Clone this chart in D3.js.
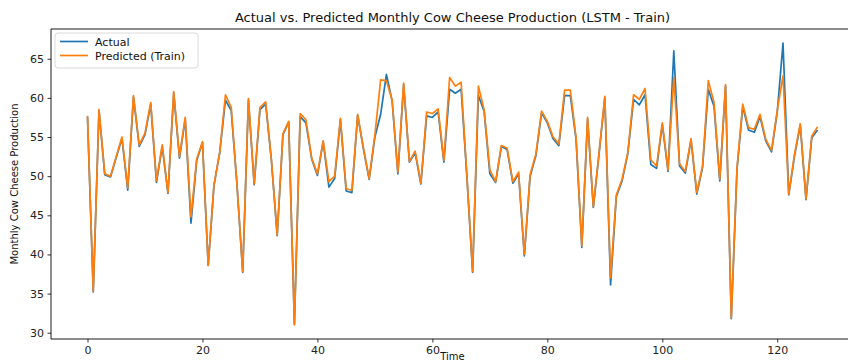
<!DOCTYPE html>
<html>
<head>
<meta charset="utf-8">
<script src="https://cdn.jsdelivr.net/npm/d3@7"></script>
<style>
  html, body { margin: 0; padding: 0; background: #fff; overflow: hidden; }
  svg { display: block; font-family: "DejaVu Sans", sans-serif; }
</style>
</head>
<body>
<svg id="chart" width="848" height="362"></svg>
<script>
// Monthly cow cheese production: actual values and LSTM predictions on the training set
const actual = [
  57.6, 35.2, 58.4, 50.2, 49.9, 52.4, 54.8, 48.2, 60.1, 53.8,
  55.3, 59.2, 49.2, 53.8, 47.8, 60.6, 52.3, 57.3, 44.0, 52.0,
  54.3, 38.6, 48.8, 53.0, 59.7, 58.4, 49.0, 37.7, 59.7, 48.9,
  58.5, 59.2, 52.0, 42.4, 55.3, 56.9, 31.1, 57.6, 56.8, 52.2,
  50.1, 54.4, 48.6, 49.7, 57.2, 48.1, 47.9, 57.8, 53.5, 49.6,
  55.0, 57.9, 63.0, 59.6, 50.3, 61.7, 51.8, 53.0, 49.0, 57.7,
  57.5, 58.2, 51.8, 61.1, 60.6, 61.1, 50.0, 37.7, 60.3, 58.3,
  50.3, 49.2, 53.8, 53.4, 49.1, 50.3, 39.8, 50.0, 52.6, 58.1,
  56.8, 54.8, 53.9, 60.3, 60.3, 54.7, 40.9, 57.3, 46.0, 52.9,
  60.0, 36.1, 47.4, 49.4, 52.9, 59.8, 59.1, 60.4, 51.5, 51.0,
  56.6, 50.6, 66.0, 51.3, 50.4, 54.6, 47.7, 51.1, 61.1, 58.9,
  49.4, 61.5, 31.8, 50.9, 58.9, 55.9, 55.6, 57.6, 54.5, 53.1,
  58.2, 67.0, 47.6, 52.6, 56.5, 47.0, 54.9, 55.9
];
const predicted = [
  57.7, 35.3, 58.5, 50.3, 50.0, 52.5, 55.0, 48.5, 60.3, 54.0,
  55.5, 59.4, 49.4, 54.0, 47.9, 60.8, 52.5, 57.5, 44.8, 52.2,
  54.4, 38.6, 48.9, 53.0, 60.4, 58.8, 49.0, 37.8, 59.9, 49.0,
  58.8, 59.5, 52.0, 42.5, 55.4, 57.0, 31.0, 58.0, 57.2, 52.3,
  50.3, 54.5, 49.3, 50.0, 57.4, 48.4, 48.2, 57.9, 53.6, 49.7,
  55.3, 62.3, 62.2, 59.7, 50.5, 61.9, 51.9, 53.2, 49.1, 58.2,
  58.0, 58.6, 52.0, 62.6, 61.5, 62.0, 50.1, 37.8, 61.5, 58.5,
  50.8, 49.3, 53.9, 53.6, 49.3, 50.5, 40.0, 50.2, 52.8, 58.3,
  57.0, 55.0, 54.1, 61.0, 61.0, 54.9, 41.1, 57.5, 46.1, 53.0,
  60.2, 37.0, 47.6, 49.6, 53.0, 60.4, 59.8, 61.2, 52.1, 51.3,
  56.8, 50.8, 62.6, 51.6, 50.6, 54.8, 47.9, 51.3, 62.2, 59.4,
  49.6, 61.7, 31.9, 51.1, 59.2, 56.2, 56.0, 57.9, 54.7, 53.3,
  58.4, 62.8, 47.7, 52.8, 56.7, 47.1, 55.1, 56.3
];
const time = d3.range(actual.length);
const xTicks = [0, 20, 40, 60, 80, 100, 120];
const yTicks = [30, 35, 40, 45, 50, 55, 60, 65];
const seriesNames = ["Actual", "Predicted (Train)"];
const seriesColors = ["#1f77b4", "#ff7f0e"];

const svg = d3.select("#chart");
const margin = { left: 51, top: 29, right: 854, bottom: 339 };

// Axis limits padded by 5% on both sides of the data extent
const xMin = d3.min(time), xMax = d3.max(time);
const xPad = (xMax - xMin) * 0.05;
const yAll = actual.concat(predicted);
const yMin = d3.min(yAll), yMax = d3.max(yAll);
const yPad = (yMax - yMin) * 0.05;

const x = d3.scaleLinear().domain([xMin - xPad, xMax + xPad]).range([margin.left, margin.right]);
const y = d3.scaleLinear().domain([yMin - yPad, yMax + yPad]).range([margin.bottom, margin.top]);

// Lines
const line = d3.line().x((d, i) => x(i)).y(d => y(d));
[actual, predicted].forEach((s, k) => {
  svg.append("path")
    .datum(s)
    .attr("fill", "none")
    .attr("stroke", seriesColors[k])
    .attr("stroke-width", 1.7)
    .attr("stroke-linejoin", "round")
    .attr("d", line);
});

// Frame
const frame = svg.append("g").attr("stroke", "#000").attr("stroke-width", 0.9).attr("fill", "none");
frame.append("line").attr("x1", margin.left).attr("x2", margin.left).attr("y1", margin.top).attr("y2", margin.bottom);
frame.append("line").attr("x1", margin.left).attr("x2", margin.right).attr("y1", margin.top).attr("y2", margin.top);
frame.append("line").attr("x1", margin.left).attr("x2", margin.right).attr("y1", margin.bottom).attr("y2", margin.bottom);

// Axes
const xAxis = svg.append("g")
  .attr("transform", `translate(0,${margin.bottom})`)
  .call(d3.axisBottom(x).tickValues(xTicks).tickFormat(d3.format("d")).tickSize(3.5).tickPadding(3.5));
const yAxis = svg.append("g")
  .attr("transform", `translate(${margin.left},0)`)
  .call(d3.axisLeft(y).tickValues(yTicks).tickFormat(d3.format("d")).tickSize(3.5).tickPadding(3.5));
[xAxis, yAxis].forEach(g => {
  g.select(".domain").remove();
  g.selectAll(".tick line").attr("stroke", "#000").attr("stroke-width", 0.8);
  g.selectAll(".tick text").attr("fill", "#222").style("font-size", "11px").style("font-family", "DejaVu Sans, sans-serif");
});

// Titles and axis labels
svg.append("text")
  .attr("x", (margin.left + margin.right) / 2).attr("y", 22)
  .attr("text-anchor", "middle")
  .style("font-size", "13px").attr("fill", "#111")
  .text("Actual vs. Predicted Monthly Cow Cheese Production (LSTM - Train)");

svg.append("text")
  .attr("x", (margin.left + margin.right) / 2).attr("y", 359.5)
  .attr("text-anchor", "middle")
  .style("font-size", "10px").attr("fill", "#111")
  .text("Time");

svg.append("text")
  .attr("transform", `translate(18,${(margin.top + margin.bottom) / 2}) rotate(-90)`)
  .attr("text-anchor", "middle")
  .style("font-size", "10px").attr("fill", "#111")
  .text("Monthly Cow Cheese Production");

// Legend
const legend = svg.append("g").attr("transform", "translate(55,33)");
legend.append("rect")
  .attr("width", 143).attr("height", 35).attr("rx", 3)
  .attr("fill", "#fff").attr("fill-opacity", 0.8)
  .attr("stroke", "#d6d6d6").attr("stroke-width", 0.9);
seriesNames.forEach((name, k) => {
  const ly = 8.5 + k * 14;
  legend.append("line")
    .attr("x1", 5).attr("x2", 33).attr("y1", ly).attr("y2", ly)
    .attr("stroke", seriesColors[k]).attr("stroke-width", 1.7);
  legend.append("text")
    .attr("x", 40).attr("y", ly + 4)
    .style("font-size", "11px").attr("fill", "#111")
    .text(name);
});
</script>
</body>
</html>
